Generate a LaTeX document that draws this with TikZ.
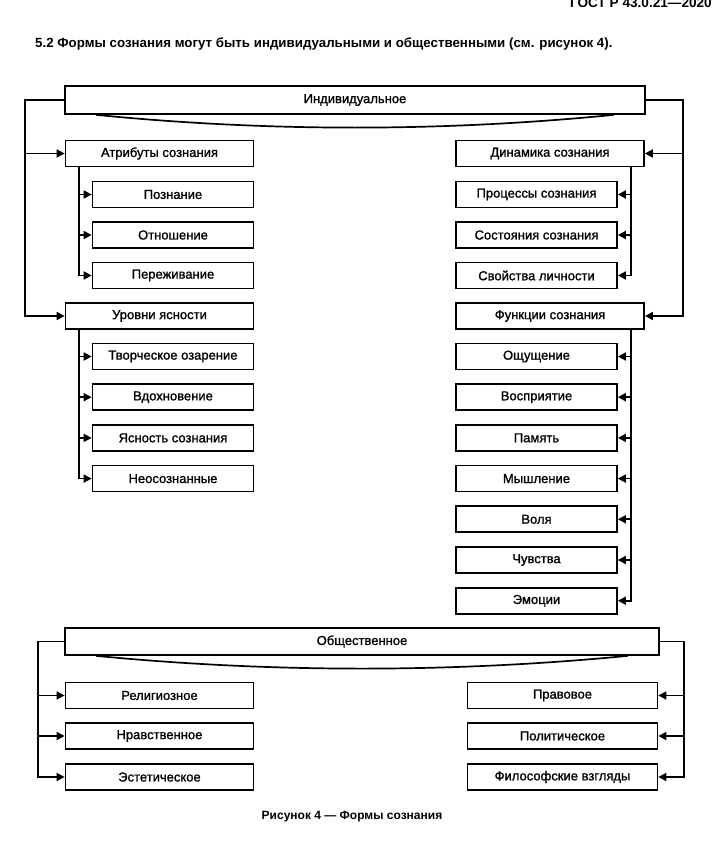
\documentclass[tikz,border=0pt]{standalone}
\usepackage{fontspec}
\setmainfont{Liberation Sans}
\newfontfamily\boxfnt[FakeBold=1.2]{Liberation Sans}
\usetikzlibrary{arrows.meta,calc}
\begin{document}
\begin{tikzpicture}[x=1pt,y=-1pt,
  bx/.style={draw, line width=1.7pt, inner sep=0pt, minimum height=26pt, font=\boxfnt\fontsize{13}{14}\selectfont},
  mainw/.style={minimum width=188pt},
  subw/.style={minimum width=161pt},
  ln/.style={line width=1.7pt},
  arr/.style={line width=1.7pt, -{Triangle[length=8pt,width=8pt]}},
]
\useasboundingbox (0,0) rectangle (720,851);
% texts
\node[font=\bfseries\fontsize{13.6}{15}\selectfont, anchor=base east, inner sep=0pt] (hdr) at (712,8) {ГОСТ Р 43.0.21—2020};
\node[font=\bfseries\fontsize{13.3}{15}\selectfont, anchor=west, inner sep=0pt] (ttl) at (35,44) {5.2 Формы сознания могут быть индивидуальными и общественными (см. рисунок 4).};
\node[font=\bfseries\fontsize{12}{14}\selectfont, inner sep=0pt] (cap) at (352,817) {Рисунок 4 — Формы сознания};

% top
\node[bx, minimum width=580pt, minimum height=28pt] (ind) at (355,100) {Индивидуальное};
\draw[ln] ($(ind.south west)+(32,0)$) .. controls +(172,17) and +(-172,17) .. ($(ind.south east)+(-32,0)$);

% left
\node[bx, mainw] (atr) at (159.5,153.5) {Атрибуты сознания};
\node[bx, subw] (poz) at (173,194.5) {Познание};
\node[bx, subw] (otn) at (173,235) {Отношение};
\node[bx, subw] (per) at (173,275.5) {Переживание};
\node[bx, mainw] (urv) at (159.5,316) {Уровни ясности};
\node[bx, subw] (tvo) at (173,356.5) {Творческое озарение};
\node[bx, subw] (vdh) at (173,397.2) {Вдохновение};
\node[bx, subw] (yas) at (173,437.9) {Ясность сознания};
\node[bx, subw] (neo) at (173,478.6) {Неосознанные};

% right
\node[bx, mainw] (din) at (550,153.5) {Динамика сознания};
\node[bx, subw] (pro) at (536.5,194.5) {Процессы сознания};
\node[bx, subw] (sos) at (536.5,235) {Состояния сознания};
\node[bx, subw] (svo) at (536.5,275.5) {Свойства личности};
\node[bx, mainw] (fun) at (550,316) {Функции сознания};
\node[bx, subw] (osh) at (536.5,356.5) {Ощущение};
\node[bx, subw] (vos) at (536.5,397.2) {Восприятие};
\node[bx, subw] (pam) at (536.5,437.9) {Память};
\node[bx, subw] (mys) at (536.5,478.6) {Мышление};
\node[bx, subw] (vol) at (536.5,519.3) {Воля};
\node[bx, subw] (chu) at (536.5,560) {Чувства};
\node[bx, subw] (emo) at (536.5,600.7) {Эмоции};

% bottom
\node[bx, minimum width=594pt, minimum height=27pt] (obs) at (362,641.5) {Общественное};
\draw[ln] ($(obs.south west)+(32,0)$) .. controls +(176,17) and +(-176,17) .. ($(obs.south east)+(-32,0)$);
\node[bx, mainw] (rel) at (159.5,695.5) {Религиозное};
\node[bx, mainw] (nra) at (159.5,736) {Нравственное};
\node[bx, mainw] (est) at (159.5,777) {Эстетическое};
\node[bx, minimum width=190pt] (pra) at (562.5,695.5) {Правовое};
\node[bx, minimum width=190pt] (pol) at (562.5,736) {Политическое};
\node[bx, minimum width=190pt] (fil) at (562.5,777) {Философские взгляды};

% guide coordinates
\coordinate (oL) at (25,0);
\coordinate (oR) at (683,0);
\coordinate (iL) at (79,0);
\coordinate (iR) at (631,0);
\coordinate (bL) at (38,0);
\coordinate (bR) at (684,0);

% connectors top
\draw[arr] (ind.west) -- (ind.west -| oL) |- (urv.west);
\draw[arr] (atr.west -| oL) -- (atr.west);
\draw[arr] (ind.east) -- (ind.east -| oR) |- (fun.east);
\draw[arr] (din.east -| oR) -- (din.east);

\draw[arr] (atr.south -| iL) |- (per.west);
\draw[arr] (poz.west -| iL) -- (poz.west);
\draw[arr] (otn.west -| iL) -- (otn.west);

\draw[arr] (urv.south -| iL) |- (neo.west);
\draw[arr] (tvo.west -| iL) -- (tvo.west);
\draw[arr] (vdh.west -| iL) -- (vdh.west);
\draw[arr] (yas.west -| iL) -- (yas.west);

\draw[arr] (din.south -| iR) |- (svo.east);
\draw[arr] (pro.east -| iR) -- (pro.east);
\draw[arr] (sos.east -| iR) -- (sos.east);

\draw[arr] (fun.south -| iR) |- (emo.east);
\draw[arr] (osh.east -| iR) -- (osh.east);
\draw[arr] (vos.east -| iR) -- (vos.east);
\draw[arr] (pam.east -| iR) -- (pam.east);
\draw[arr] (mys.east -| iR) -- (mys.east);
\draw[arr] (vol.east -| iR) -- (vol.east);
\draw[arr] (chu.east -| iR) -- (chu.east);

% connectors bottom
\draw[arr] (obs.west) -- (obs.west -| bL) |- (est.west);
\draw[arr] (rel.west -| bL) -- (rel.west);
\draw[arr] (nra.west -| bL) -- (nra.west);
\draw[arr] (obs.east) -- (obs.east -| bR) |- (fil.east);
\draw[arr] (pra.east -| bR) -- (pra.east);
\draw[arr] (pol.east -| bR) -- (pol.east);
\end{tikzpicture}
\end{document}
